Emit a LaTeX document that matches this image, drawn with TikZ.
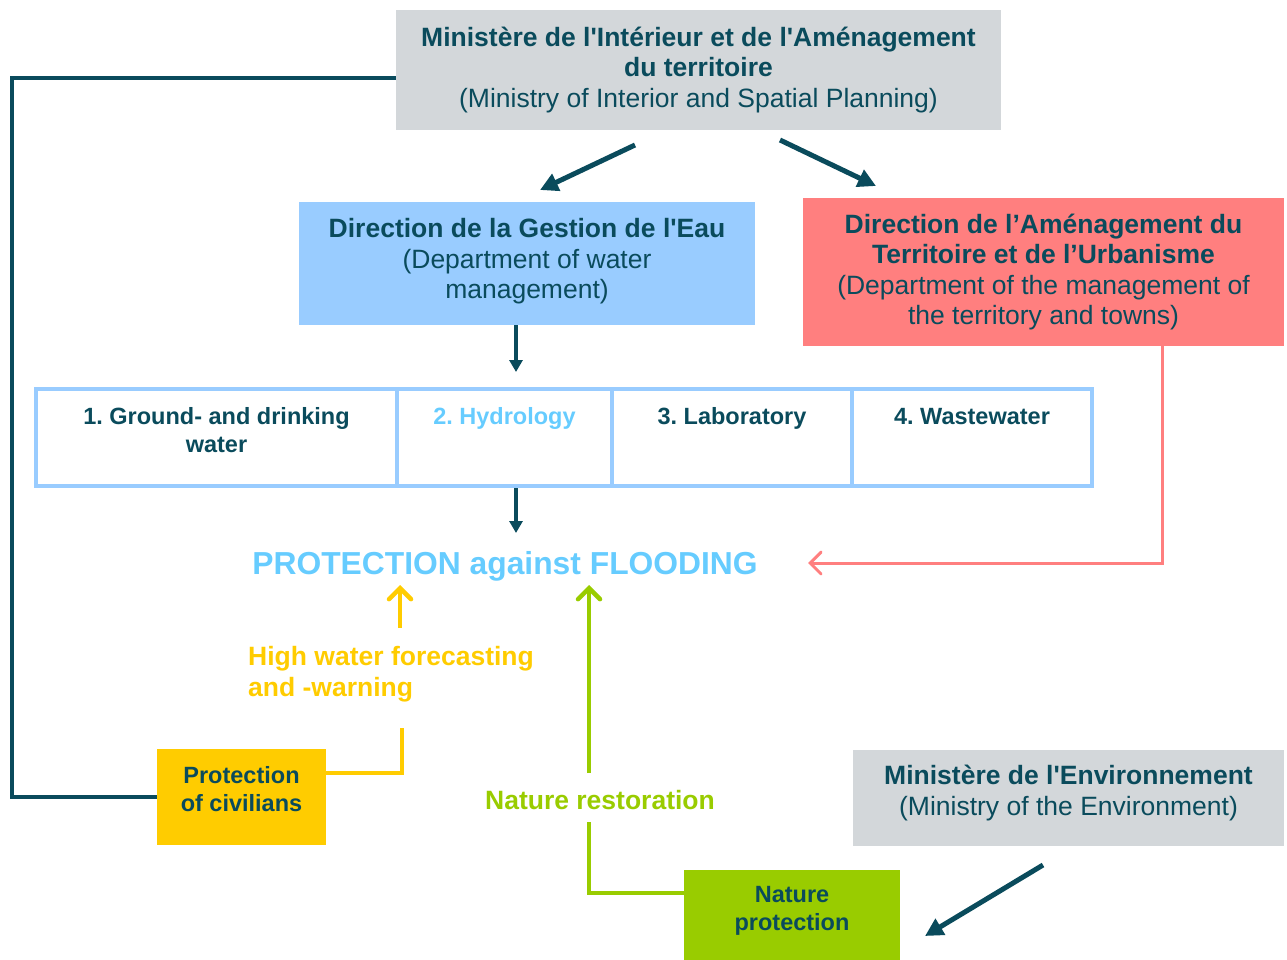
\documentclass[tikz,border=0pt]{standalone}
\usepackage{fontspec}
\newfontfamily\lib{Liberation Sans}
\usetikzlibrary{arrows.meta}
\definecolor{dteal}{HTML}{0A4B5C}
\definecolor{gbox}{HTML}{D3D7DA}
\definecolor{bbox}{HTML}{99CCFF}
\definecolor{rbox}{HTML}{FF7F7F}
\definecolor{ybox}{HTML}{FFCC00}
\definecolor{gnbox}{HTML}{99CC00}
\definecolor{ltext}{HTML}{66CCFF}
\frenchspacing
\begin{document}
\begin{tikzpicture}[x=1pt,y=-1pt,
  box/.style={inner sep=0pt, align=center, text=dteal},
  big/.style={font=\lib\frenchspacing\fontsize{26.5}{30.5}\selectfont},
  sml/.style={font=\lib\frenchspacing\bfseries\fontsize{23.5}{28.5}\selectfont},
  lbl/.style={inner sep=0pt, font=\lib\bfseries\fontsize{26.5}{31}\selectfont},
  darrow/.style={draw=dteal, line width=5pt, -{Triangle[length=18pt,width=18pt]}},
  vdarrow/.style={draw=dteal, line width=4pt, -{Triangle[length=12pt,width=13pt]}},
  barb/.style={-{Straight Barb[length=11pt,width=22pt,line cap=round]}},
  cell/.style={draw=bbox, line width=4pt, minimum height=97pt, inner sep=0pt},
]
\useasboundingbox (0,0) rectangle (1287,960);

% boxes
\node[box,big,fill=gbox,minimum width=605pt,minimum height=120pt] (min) at (698.5,70)
  {\textbf{Ministère de l'Intérieur et de l'Aménagement}\\\textbf{du territoire}\\(Ministry of Interior and Spatial Planning)};
\node[box,big,fill=bbox,minimum width=456pt,minimum height=123pt] (dge) at (527,263.5) {};
\node[box,big] (dget) at (527,261.5)
  {\textbf{Direction de la Gestion de l'Eau}\\(Department of water\\management)};
\node[box,big,fill=rbox,minimum width=481pt,minimum height=148pt] (dat) at (1043.5,272)
  {\textbf{Direction de l’Aménagement du}\\\textbf{Territoire et de l’Urbanisme}\\(Department of the management of\\the territory and towns)};

% row of cells
\node[cell,minimum width=361pt] (c1) at (216.5,437.5) {};
\node[cell,minimum width=215pt] (c2) at (504.5,437.5) {};
\node[cell,minimum width=240pt] (c3) at (732,437.5) {};
\node[cell,minimum width=240pt] (c4) at (972,437.5) {};
\node[box,sml,anchor=base] (t1) at (216.5,452.5) {1. Ground- and drinking\\water};
\node[box,sml,anchor=base,text=ltext] (t2) at (504.5,424) {2. Hydrology};
\node[box,sml,anchor=base] (t3) at (732,424) {3. Laboratory};
\node[box,sml,anchor=base] (t4) at (972,424) {4. Wastewater};

% protection
\node[inner sep=0pt,anchor=base,text=ltext,font=\lib\bfseries\fontsize{31.8}{36}\selectfont] (prot) at (505,574.5) {PROTECTION against FLOODING};

\node[lbl,text=ybox,align=left,anchor=base west] (hw) at (248,696.5) {High water forecasting\\and -warning};
\node[lbl,text=gnbox,anchor=base] (nr) at (600,809.5) {Nature restoration};

\node[box,fill=ybox,minimum width=169pt,minimum height=96pt] (pc) at (241.5,797) {};
\node[box,sml] (pct) at (241.5,789) {Protection\\of civilians};
\node[box,fill=gnbox,minimum width=216pt,minimum height=90pt] (np) at (792,915) {};
\node[box,sml] (npt) at (792,911) {Nature\\protection};
\node[box,fill=gbox,minimum width=431pt,minimum height=96pt] (env) at (1068.5,798) {};
\node[box,big] (envt) at (1068.5,793) {\textbf{Ministère de l'Environnement}\\(Ministry of the Environment)};

% coordinates
\coordinate (a1s) at (635,145); \coordinate (a1e) at (540,190);
\coordinate (a2s) at (780,140); \coordinate (a2e) at (876,186);
\coordinate (a3s) at (1043,865); \coordinate (a3e) at (925,936);
\coordinate (ax) at (516,0);
\coordinate (dtip) at (516,372);
\coordinate (ptip) at (516,533);
\coordinate (rx) at (1162,0);
\coordinate (rtip) at (808,563);
\coordinate (ya) at (400,628); \coordinate (yb) at (400,585);
\coordinate (yc) at (402,728);
\coordinate (lx) at (12,797);
\coordinate (ga) at (589,773); \coordinate (gb) at (589,585);
\coordinate (gc) at (589,822);

% connectors
\draw[darrow] (a1s) -- (a1e);
\draw[darrow] (a2s) -- (a2e);
\draw[darrow] (a3s) -- (a3e);
\draw[vdarrow] (dge.south -| ax) -- (dtip);
\draw[vdarrow] (c2.south -| ax) -- (ptip);
\draw[draw=rbox, line width=3pt, barb] (dat.south -| rx) |- (rtip);
\draw[draw=ybox, line width=4.5pt, barb] (ya) -- (yb);
\draw[draw=ybox, line width=4pt] (yc) |- ([yshift=24pt]pc.east);
\draw[draw=dteal, line width=3.5pt] ([yshift=-8pt]min.west) -| (lx) -- (pc.west);
\draw[draw=gnbox, line width=4.5pt, barb] (ga) -- (gb);
\draw[draw=gnbox, line width=4pt] (gc) |- ([yshift=22pt]np.west);
\end{tikzpicture}
\end{document}
